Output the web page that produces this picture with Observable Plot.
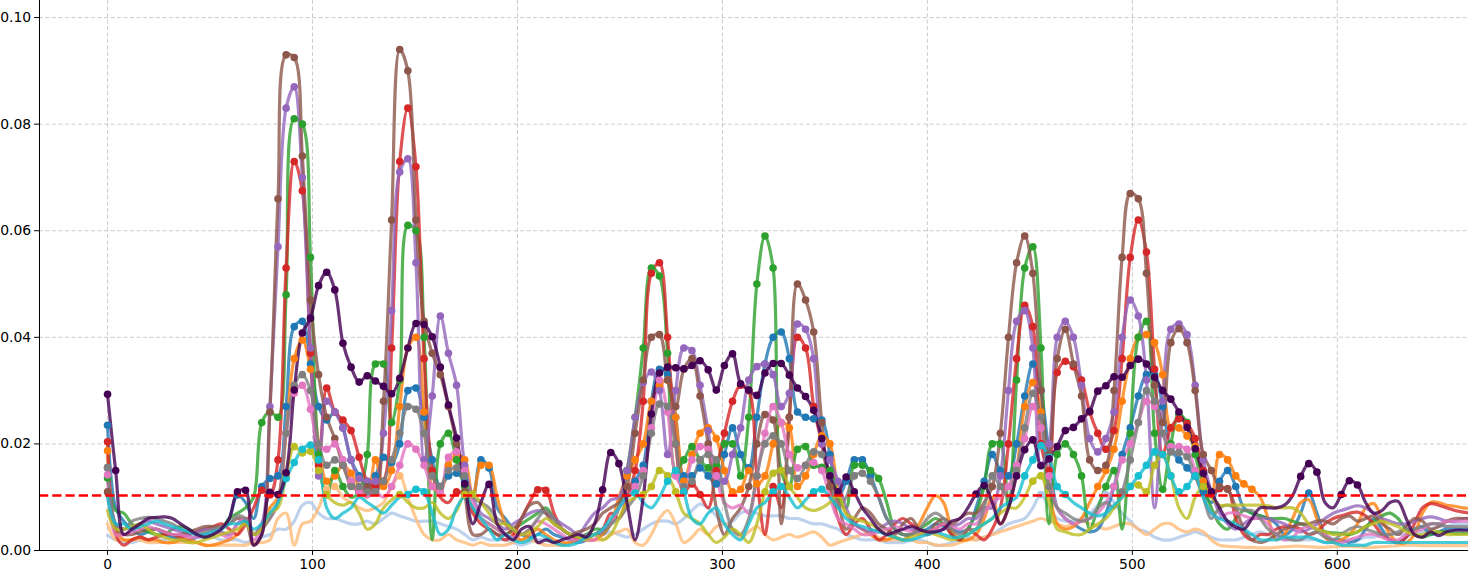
<!DOCTYPE html>
<html><head><meta charset="utf-8">
<script src="https://cdn.jsdelivr.net/npm/d3@7"></script>
<script src="https://cdn.jsdelivr.net/npm/@observablehq/plot@0.6"></script>
<style>html,body{margin:0;padding:0;background:#fff}#chart svg{display:block}</style>
</head><body><div id="chart"></div>
<script>
// sample spacing along x (one value every STEP units)
const STEP = 3.96;
const THRESHOLD = 0.0103;
const xTicks = [0, 100, 200, 300, 400, 500, 600];
const yTicks = [0, 0.02, 0.04, 0.06, 0.08, 0.10];

const seriesNames  = ["lightblue","lightorange","blue","orange","green","red","purple","brown","pink","gray","olive","cyan","darkpurple"];
const seriesColors = ["#aec7e8","#ffbb78","#1f77b4","#ff7f0e","#2ca02c","#d62728","#9467bd","#8c564b","#e377c2","#7f7f7f","#bcbd22","#17becf","#440154"];

// values in thousandths (x 0.001)
const lightblue = [2.8,2,1.5,1.5,2,2,2,2,2.5,2.5, 2.5,2.5,2.5,2.5,2,2,2,1.5,2,2.5, 3,4,4,5.5,8.5,9,7,6,6,5.5, 5,5,5.5,5,6,7,6.5,6,5.5,5.5, 5.5,5,4.5,4,3,2,2.5,2,2,2, 1.5,1,1.5,2,2,1.5,1,1.5,2,2.5, 3,3,3.5,3,2.5,3,4,5,5.5,5.5, 5,6,7.5,8.7,8,6.5,5,5.5,7,7.5, 7,6.5,6.5,6.5,6,6,5.5,5,5,4.5, 4,3,2.5,2,2,2,1.5,1.5,1.5,2, 2,1.5,1,1,1.5,2,2.5,2,2.5,3, 4,5,5.5,6,8,10.5,8,6,5.5,5.5, 6,7,8.5,10.5,9,7,5.5,4,3.5,2.5, 2,2,2.5,3,3.5,3,2.5,2,2,2, 2.5,3,3.5,3,2.5,2,2,2,2,2, 1.5,1.5,1.5,2,2,2.5,2.5,3,3,3, 3,3,3.5,4,4.5,4.5,5,5,5];
const lightorange = [5,2,2,2,2,1.5,1.5,1.5,1.5,1.5, 1.5,1.5,1,1,1,1,1,1,1.5,1.5, 2,6,7,1,5,5.5,8,11.5,12,10, 9,8,7.5,8,9,12,14,10,6,3, 2,2,3,2,1.5,1,1.5,1,1,1, 1.5,2,2,1.5,1,1,1,1.5,2,2, 2,2,3,3.5,4,1.5,1,3,6,7.5, 5,1.5,2.5,4,3,4.5,5,4,2.5,3.5, 4.5,3,2,2.5,3,2.5,3,3.5,2.5,1, 1.5,2,2.5,3,3,2.5,2,2,2,2, 1.5,1.5,1,1,1,1.5,2,2,2.5,3, 3.5,4,4.5,5,5.5,6,5.5,5,4.5,5, 5.5,5,4.5,4,4.5,5,5,4,3,4, 5,5,4,3.5,4,3.5,2,1,0.8,0.7, 0.6,0.6,0.5,0.5,0.6,0.7,0.8,0.8,0.7,0.6, 0.6,0.7,0.8,0.8,0.7,0.6,0.6,0.7,0.8,0.9, 1,1,0.9,0.9,0.9,0.9,0.9,0.9,0.9];
const blue = [23.5,8,5.5,4,3,3.5,4,3,2.5,2, 2,2.5,3,3.5,4,6,10.4,9,6,12, 13.5,14,27,42,43,35,27,24.5,26,23, 17,14,12,14,17.5,16.5,20,30,30.5,25, 17,12,14,14.5,13,10,17,15.5,8,6, 4,3,2.5,3,4,3,2.5,2,1.5,2, 3,3,5,8,10,13,16,28,34,33, 25,14,14,15.5,14,12.5,18,23,18,15.5, 25,35,40,41,36,26,25,24.7,24.5,18, 10,13,17,17,14,10,6,4,3,3, 3.5,4,5,4.5,4,3.5,4,8,13,18, 15,14,20,29,35,30,18,8,6,5, 4,3.5,4,7,12,18,23,29,33,33, 27,19,17,15.5,14,11,9,13,15,12, 8,7,6.5,6,5,3,4,7,10.8,7, 3,2,2,1.5,2,4,6,4,2,1.5, 2.5,4,4.5,3,3.5,4,4,4,4];
const orange = [18.7,4,2,2,2.5,2,2,1.5,1.5,2, 2,1.5,1,1,1.5,2,3,6,3,5, 8,10,22,36,39.5,34,20,13,14,16, 14.5,12,10,17,12,15,27,38,40,26, 12,11,16,18,17,10,16,16,10,5, 3,2,3,4,3,2,1.5,1.5,2,2, 2,3,5,10,14,17,20,28,31,32, 25,13,18,22,23,21,15,11,11.5,15, 12.5,14,20,24,23,12,14,18,21.5,20, 11,7,5,4,3,2,2,2.5,2,3, 5,8,10.3,9,4,2,2,3,6,10, 5,8,15,27,31.5,26,12,5,4,4.5, 6,9,12,15,19,28,36,40,40.5,39, 33,23,23,21.5,19.5,13,10,18,17,14, 12.5,11.5,10,6,2,3,6,9,9.5,6, 2.5,1.5,2,3,5,8,8.8,6,3,1.5, 1.5,3,7,9,9,8.5,8.3,8,7.9];
const green = [13.6,7.5,7,5,4,3.5,3,3,4,4.5, 4,3,2.5,3,4,6,7,8,10,24, 26,25,48,81,80,55,18,10,15,12, 10,11,18,35,35,24,32,61,60,40, 2,20,22,17,12,8,6,5,4,3, 4,5,6,7,8,6,4,3,2.5,3, 4,4,5,8,15,25,38,53,51.5,37, 15,17,19.5,17,15.5,16,20,20,14,25, 50,59,53,15,12,19,19.5,16,15.6,15, 10,8,16,16,15,13.5,9,4,3,3, 4,5,6,5,3,2,4,7,12,20, 20,8,32,53,57,38,5,18,20,18, 14,4,8,12,15,4,22,40,43,22, 11.5,20,25.5,24,18,12,8,5,4,6, 7.5,7,6.5,6,6,6,5.5,5,4.5,4, 3.5,3.3,3.2,3,3.5,4.5,5.5,6.5,7,6, 4,3,2.5,3,3.5,3.5,3.2,3.2,3.2];
const red = [20.4,3,1,2,2.5,2,2.5,3,3,2.5, 3,3.5,4,4.5,5,4,3,5,8,11.3, 10.4,17,53,73,67.5,37,16,30.5,26,24.5, 22.5,17.5,13,12,13,38,73,83,72,36, 15,10,9,11,10.5,7,5,4,3,2, 3,6,9,11.4,11.3,7,4,3,2,2.5, 3,4,7,6,10,15,28,52,54,40, 20,11,12.5,10.5,8,15,22,28,31,30, 14,3,12,8,25,40,38,27,20,12, 6,3,5,6,4,2,3,5,6,5, 4,3,4,5,3,2,4,3,2,4, 8,20,36,46,42,20,15,33.4,35.5,34.5, 32,26,22,19,22.5,36,55,62,56,34, 18,23,24.7,23.8,21,15,10.6,11.6,11.6,6, 3,2,3,3,4,4.5,4.5,4,3,3.5, 5,6,6.5,7,7.2,6.5,5,3,2,1.5, 2.5,5,8,8.8,8.5,8,7.5,7.2,7];
const purple = [15.5,5,4,4.5,5,5.5,5,4.5,4,3.5, 3,3.5,4,4,3.5,3,5,6,3,5, 27,57,83,87,70,38,14,28,26,23, 17,13.5,13,13,22,45,71,73.5,54,17, 29,44,37,31,16,10,7,6,5,4, 5,6,7,7.5,7,6,5,4,3,5, 7,8,9.5,10,15,25,31.5,33.5,30,18, 30,38,37.5,31,22.5,14,13,18,23,32, 34.5,35,33,27,29.5,42.5,41.5,36,20,17, 13,8,5,4,3.5,4,5,5.5,5,4, 3.5,3,3.5,4,4.5,5,6,6,8,8, 14,30,43,45,38,16,20,40,43,40, 31,21,18.5,21,26,40,47,44,32,8, 28,41.5,42.5,40.5,31,17,11,7,5,4, 5,6,6,6,5.5,5,4,3.5,4,5, 6,7,7.5,8,8.4,8,7,6,5.5,5, 5,5.5,6,6.3,6,5.5,5.5,6,6];
const brown = [11,4,3,3,3.5,4,4,3.5,3,3, 3.5,4,4.5,4.5,4.5,5,6,5.5,1,3, 26,66,93,92.5,74,47,33,25,21,16, 12.5,11,12,11,28,62,94,90,62,43, 37,33,27,20,11,3,3,4,3,3, 4,6,8.5,9,7,5,4,3,3.5,4, 5,7,8,9,12,22,32,40,40.5,32, 27,34,36,29,20,8,3,6,8,12, 20,25.5,24.5,5,25,50,47,41,24,12, 9,4,6,8,7,5,4,3,5,6, 4,3,5,6,5,6,7,7,9,12, 22,40,54,59,52,30,18,36,41.5,35, 29,17,15,16,30,55,67,66,52,31, 24,39,41.6,39,30,18,15,12,11.5,8, 4,2,1.5,2,3,4,4.5,5,5,5.5, 5.5,5,6,6.5,5.5,6,6.5,5,4,3, 4.5,6,5.5,4,4.5,5.5,6,6,6];
const pink = [14.2,3,3,3.5,4,4.5,4,3.5,3,3, 2.5,2.5,3,3.5,3,2.5,5,6,2,4, 6,9,22,29.5,31,26.5,20,19,20,17, 13,11,10.5,11,10,12,16,20,19,16, 12,11,17.5,18.5,15,9,6,5,4,3, 2.5,3,4,5.5,5,4,3,2,2,2, 2,4,5,8,10,12,15,23,32,26, 14,12,17,19.5,19,14,9,8,8.5,7, 14,22,27,24,18,15.5,16,16.5,15,10, 6,5,4,3,3,3.5,4,4.5,4,3.5, 3,3.5,4,5,4.5,4,5,5,7,9, 10,12,16,21,27,23,14,8,6,5, 5.5,6,7,9,12,17,20,24,28,27, 22,19.5,19.5,19,15,10,7,6,7,7, 6.5,6,6,5,3,2,2.5,4,4.5,4, 3,2,1.5,2,2.5,3,3,2.5,2,2, 3,3.5,4,5,5,5.5,5.5,5.5,5.5];
const gray = [15.6,5,4,5.5,6,6.2,6,5.5,5,4, 3.5,3,3.5,4,4.5,5,6.5,6,3,4, 6,9,22,31,33,30,20,16,17,16, 12,12,11,11,13,17,22,27,26.5,22, 14,12,15,15.5,14,10,9,8,6,5, 4,3,4,6,7.5,6,4,3,2.5,3, 3,3.5,5,6,8,10,14,22,27.5,27, 20,12,13,17,18,17,9,4,3,6, 14,20,21.5,20,15,13.5,16,18.5,18,14, 8,10,14,14.5,13,10,6,4,3,3, 4,6,7,6,4,3,4,4,8,14, 12,10,15,23,29.5,25,12,8,7,6, 5.5,6,8,9,8,11,17,24,30,28, 22,18.5,18.4,17.6,14,10,6,8,8.5,8, 7.5,7.5,6,4,3,2.5,2,2,3,3.5, 2.5,2,3,4,4.5,4,3.5,3,3,3.5, 4,4,4.5,5,5,4.5,4.5,4.5,4.5];
const olive = [7.5,4,4,4.5,5,4,3,2.5,2,2, 1.5,1.5,2,2.5,3,3.5,4,5,3,4, 7,8,14,19.5,18.3,18.6,15,10.5,9,8.5, 9,7,4,5,8,9.5,10.5,9,8,8, 9,7,6,7.5,10.5,10.6,9,7,5,5, 4,3,3.5,4.5,6,5,4,3,2.5,2, 3,2,3,6,9,10,10.5,12,15,14, 11,7,6,5,3,1.5,2.5,4,3,1.5, 5,11,14.5,15,12,10,8,7.5,8,9, 10.5,7,6,5.5,5,4,3,2.5,2,2.5, 3,3.5,3,2.5,2,2.5,3,4,5,6, 7,8,8,10,13,14,9,4,3.5,3, 3,4,5,6,8,10,12,12.3,11,16, 18,14,8,6,10,12,10,8.5,8.5,8.5, 8.5,8.5,8.5,8.4,8,8,8,7,5,4, 3.5,3,3,3.2,3.5,4.5,5,5.5,5,4.5, 3.5,3,3,3.5,3.5,3,3,3,3];
const cyan = [10,5,5,4,4.5,5,5.5,5,4.5,4, 3.5,3,3,3.5,4,5,5,5.5,4,5, 7,9,13.5,16.5,19,19.8,17,8,6,7, 8,10,9,8,7,8.5,10,10.5,11.5,11, 7,3,4,8,10,8,6,4,2,3, 2,1.5,2,3,2.5,1.5,1,1,1.5,2.5, 3,4,6,8,10,10.8,9,8,10,13, 15,11,6,5,7,8,5,3,2,5, 8,9,11,12,10,8,9.5,11,11.5,10, 8,6,5,4.5,4,3.5,3,2.5,2,2, 2.5,3,3.5,3,2.5,2.5,3,4,5,6, 8,9,10,14,17,19.7,17.5,12,10.5,9, 8,7,6.5,7,8.5,10,12,14,16,18.5, 18,14,11,12,14,10,7,6,5.5,5, 4,3,2,2,2,2.5,2.5,2.5,2.5,2, 1.5,1.5,1,1,1,1,1.5,1.5,1.5,1.5, 1.5,1.5,1.5,1.5,1.5,1.5,1.5,1.5,1.5];
const darkpurple = [29.3,15,3,4,5,6,6.2,6.3,6,5, 4,3,2.5,3,4,6,11,11.3,1,3, 10.9,10.5,14.6,30.1,40.8,43.6,49.7,52.2,48.9,38.9, 34.4,31.6,32.8,31.8,30.8,29.4,32.3,38,42.6,42.4, 40.1,34.4,27.3,21.1,12.5,5,9,12.4,5,3, 2,4,4.5,1.5,2,1.5,2,2.5,3,2.5, 5,11.4,18.4,16.3,9,2,10,25.6,33.3,34.4, 34.3,34.1,34.7,35.6,33.9,30.1,34.7,36.9,31.3,30.1, 29.1,33.3,35.1,35.1,32.9,30.5,28.9,26.3,21,14, 11,13.8,11,8,6,4,3,3.5,4,4.5, 4,3.5,3.5,4,5.5,6,8,10.6,12.2,9, 5,8,14,18.9,20.75,15.9,17.2,19.5,22.5,23.1, 24.7,26.1,29.9,30.9,32.6,32.5,34.7,35.9,35,32.5, 30,28.4,26,23.1,19.1,14.5,11,8,5.5,4.4, 4,6,8,8,8,8.5,10.3,13.9,16.3,14.7, 9,8,10.5,13.1,12.3,9,7,7.5,9,9.2, 6,3,2.5,3.5,2.8,3.5,3.8,3.8,3.8];

const seriesValues = [lightblue, lightorange, blue, orange, green, red, purple, brown, pink, gray, olive, cyan, darkpurple];

const rows = [];
seriesNames.forEach((name, k) => {
  seriesValues[k].forEach((v, i) => rows.push({series: name, x: i * STEP, y: v / 1000}));
});
const above = rows.filter(d => d.y > THRESHOLD);

const X0 = -33.2, X1 = 664;
const chart = Plot.plot({
  width: 1468, height: 579,
  marginLeft: 39, marginRight: 0, marginTop: 0, marginBottom: 29,
  style: {fontFamily: "'DejaVu Sans', sans-serif", fontSize: "13.9px", color: "#000", background: "#fff", overflow: "visible"},
  x: {domain: [X0, X1], label: null},
  y: {domain: [0, 0.1032], label: null},
  color: {domain: seriesNames, range: seriesColors},
  marks: [
    Plot.gridX(xTicks, {stroke: "#b0b0b0", strokeOpacity: 0.65, strokeWidth: 1, strokeDasharray: "4,2.5"}),
    Plot.gridY(yTicks, {stroke: "#b0b0b0", strokeOpacity: 0.65, strokeWidth: 1, strokeDasharray: "4,2.5"}),
    Plot.line(rows, {x: "x", y: "y", z: "series", stroke: "series", strokeWidth: 3.2, strokeOpacity: 0.8, curve: "catmull-rom", clip: true}),
    Plot.dot(above, {x: "x", y: "y", fill: "series", r: 3.8, stroke: "none", clip: true}),
    Plot.ruleY([THRESHOLD], {stroke: "#ff0000", strokeWidth: 2.5, strokeDasharray: "9.25,4"}),
    Plot.ruleX([X0], {stroke: "#000", strokeWidth: 1}),
    Plot.ruleY([0], {stroke: "#000", strokeWidth: 1}),
    Plot.axisX(xTicks, {tickSize: 4.9, tickPadding: 3.5, fill: "#000", stroke: "#000", fontSize: 13.9}),
    Plot.axisY(yTicks, {tickSize: 4.9, tickPadding: 3.5, tickFormat: d => d.toFixed(2), fill: "#000", stroke: "#000", fontSize: 13.9})
  ]
});
document.getElementById("chart").appendChild(chart);
</script>
</body></html>
